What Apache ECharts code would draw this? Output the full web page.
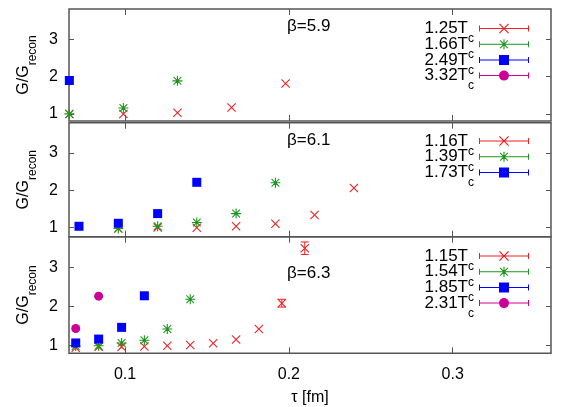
<!DOCTYPE html>
<html>
<head>
<meta charset="utf-8">
<script src="https://cdn.jsdelivr.net/npm/echarts@6/dist/echarts.min.js"></script>
<style>
  html, body { margin: 0; padding: 0; background: #fff; }
  #chart { width: 581px; height: 407px; }
</style>
</head>
<body>
<div id="chart"></div>
<script>
// beta = 5.9
var tau59 = [0.066, 0.099, 0.132, 0.165, 0.198];
var r125 = [1.0, 1.0, 1.03, 1.17, 1.815];
var g166 = [1.0, 1.16, 1.885];
var b249 = [1.895];
var m332 = [];
// beta = 6.1
var tau61 = [0.0719, 0.0959, 0.1199, 0.1438, 0.1678, 0.1918, 0.2157, 0.2397];
var r116 = [null, 0.97, 1.0, 0.99, 1.03, 1.1, 1.33, 2.06];
var g139 = [null, 0.97, 1.03, 1.13, 1.37, 2.2];
var b173 = [1.03, 1.11, 1.37, 2.21];
// beta = 6.3
var tau63 = [0.0699, 0.0839, 0.0979, 0.1118, 0.1258, 0.1398, 0.1538, 0.1678, 0.1817, 0.1957, 0.2097];
var r115 = [0.95, 0.97, 0.97, 0.98, 1.0, 1.02, 1.06, 1.16, 1.43, 2.09, 3.5];
var r115err = [0, 0, 0, 0, 0, 0, 0, 0, 0, 0.1, 0.16];
var g154 = [0.99, 1.0, 1.07, 1.14, 1.43, 2.19];
var b185 = [1.07, 1.17, 1.47, 2.28];
var m231 = [1.44, 2.27];

var xTicks = [0.1, 0.2, 0.3];
var yTicks = [1, 2, 3];
var betaLabels = ['β=5.9', 'β=6.1', 'β=6.3'];

var RED = '#ee2222', GREEN = '#1d961d', BLUE = '#0000ff', MAG = '#cc0099';
var FONT = 'Liberation Sans, Arial, sans-serif';
var AXC = '#555';

function pts(tau, ys) {
  var out = [];
  ys.forEach(function (y, i) { if (y != null) out.push([tau[i], y]); });
  return out;
}

// marker outlines
function poly(p) {
  return 'M' + p.map(function (q) { return q[0].toFixed(2) + ',' + q[1].toFixed(2); }).join(' L') + ' Z';
}
function crossP(cx, cy, h, w) {
  return poly([[cx-h,cy-h+w],[cx-h+w,cy-h],[cx,cy-w],[cx+h-w,cy-h],[cx+h,cy-h+w],[cx+w,cy],
               [cx+h,cy+h-w],[cx+h-w,cy+h],[cx,cy+w],[cx-h+w,cy+h],[cx-h,cy+h-w],[cx-w,cy]]);
}
function plusP(cx, cy, h, t) {
  return poly([[cx-t,cy-h],[cx+t,cy-h],[cx+t,cy-t],[cx+h,cy-t],[cx+h,cy+t],[cx+t,cy+t],
               [cx+t,cy+h],[cx-t,cy+h],[cx-t,cy+t],[cx-h,cy+t],[cx-h,cy-t],[cx-t,cy-t]]);
}
function squareP(cx, cy, h) { return poly([[cx-h,cy-h],[cx+h,cy-h],[cx+h,cy+h],[cx-h,cy+h]]); }
function circleP(cx, cy, h) {
  return 'M' + (cx-h) + ',' + cy + ' A' + h + ',' + h + ' 0 1,1 ' + (cx+h) + ',' + cy +
         ' A' + h + ',' + h + ' 0 1,1 ' + (cx-h) + ',' + cy + ' Z';
}
var shapes = {
  cross: function (cx, cy, h) { return crossP(cx, cy, h, 0.85); },
  star: function (cx, cy, h) { return plusP(cx, cy, h, 0.55) + ' ' + crossP(cx, cy, h * 0.85, 0.75); },
  square: function (cx, cy, h) { return squareP(cx, cy, h); },
  circle: function (cx, cy, h) { return circleP(cx, cy, h); }
};
var barLine = poly([[1,4.5],[49,4.5],[49,5.5],[1,5.5]]) + ' ' +
              poly([[0,2],[1,2],[1,8],[0,8]]) + ' ' + poly([[49,2],[50,2],[50,8],[49,8]]);
function symbolOf(k) { return 'path://' + shapes[k](5, 5, 5); }
function iconOf(k) { return 'path://' + barLine + ' ' + shapes[k](25, 5, 5); }

var panels = [
  { items: [['1.25', r125, tau59, 'cross', RED], ['1.66', g166, tau59, 'star', GREEN],
            ['2.49', b249, tau59, 'square', BLUE], ['3.32', m332, tau59, 'circle', MAG]],
    yMin: 0.81, yMax: 3.81, grid: { top: 9, height: 112 }, legendTop: 12 },
  { items: [['1.16', r116, tau61, 'cross', RED], ['1.39', g139, tau61, 'star', GREEN],
            ['1.73', b173, tau61, 'square', BLUE]],
    yMin: 0.75, yMax: 3.81, grid: { top: 122.7, height: 114 }, legendTop: 124.5 },
  { items: [['1.15', r115, tau63, 'cross', RED], ['1.54', g154, tau63, 'star', GREEN],
            ['1.85', b185, tau63, 'square', BLUE], ['2.31', m231, tau63, 'circle', MAG]],
    yMin: 0.805, yMax: 3.795, grid: { top: 236.7, height: 116.6 }, legendTop: 239.5 }
];

var xMin = 0.0658, xMax = 0.36;
var grids = [], xAxes = [], yAxes = [], series = [], legends = [], graphics = [];
var tickStyle = { color: AXC, width: 1 };
var labelStyle = { fontFamily: FONT, fontSize: 16, color: '#000' };

panels.forEach(function (p, i) {
  grids.push({ left: 69, right: 30, top: p.grid.top, height: p.grid.height,
               show: true, borderColor: AXC, borderWidth: 1.5, backgroundColor: 'transparent' });
  ['bottom', 'top'].forEach(function (pos) {
    var showLab = (pos === 'bottom' && i === 2);
    xAxes.push({
      gridIndex: i, type: 'value', position: pos, min: xMin, max: xMax,
      axisLine: { show: false }, splitLine: { show: false },
      axisTick: { inside: true, length: 6, customValues: xTicks, lineStyle: tickStyle },
      axisLabel: Object.assign({ show: showLab, customValues: xTicks, margin: 13,
                                 formatter: function (v) { return String(v); } }, labelStyle),
      name: showLab ? 'τ [fm]' : '', nameLocation: 'middle', nameGap: 36,
      nameTextStyle: labelStyle
    });
  });
  ['left', 'right'].forEach(function (pos) {
    var showLab = pos === 'left';
    yAxes.push({
      gridIndex: i, type: 'value', position: pos, min: p.yMin, max: p.yMax,
      axisLine: { show: false }, splitLine: { show: false },
      axisTick: { inside: true, length: 5, customValues: yTicks, lineStyle: tickStyle },
      axisLabel: Object.assign({ show: showLab, customValues: yTicks, margin: 11 }, labelStyle),
      name: showLab ? '{a|G/G}{s|recon}' : '', nameLocation: 'middle', nameRotate: 90, nameGap: 36,
      nameTextStyle: { rich: {
        a: { fontFamily: FONT, fontSize: 16, lineHeight: 16, color: '#000', verticalAlign: 'middle' },
        s: { fontFamily: FONT, fontSize: 12, lineHeight: 12, color: '#000', padding: [18, 0, 0, 0], verticalAlign: 'middle' }
      } }
    });
  });
  var legendData = [];
  p.items.forEach(function (it) {
    series.push({
      name: it[0], type: 'scatter', xAxisIndex: 2 * i, yAxisIndex: 2 * i,
      data: pts(it[2], it[1]), symbol: symbolOf(it[3]),
      symbolSize: it[3] === 'star' ? 10 : 9, clip: false,
      itemStyle: { color: it[4], opacity: 1 }
    });
    legendData.push({ name: it[0], icon: iconOf(it[3]) });
  });
  legends.push({
    data: legendData, orient: 'vertical', right: 52, top: p.legendTop, padding: 0,
    itemWidth: 50, itemHeight: 10, itemGap: -17.3, align: 'right', selectedMode: false,
    formatter: function (n) { return '{a|' + n + 'T}{s|c}'; },
    textStyle: { padding: [0, 0, 0, 0], rich: {
      a: { fontFamily: FONT, fontSize: 17, lineHeight: 17, color: '#000', verticalAlign: 'middle' },
      s: { fontFamily: FONT, fontSize: 12, lineHeight: 12, color: '#000', padding: [21, 0, 0, 0], verticalAlign: 'middle' }
    } }
  });
});

// error bars for the 1.15Tc series
var errData = [];
r115.forEach(function (y, i) {
  if (r115err[i] > 0) errData.push([tau63[i], y - r115err[i], y + r115err[i]]);
});
series.push({
  type: 'custom', xAxisIndex: 4, yAxisIndex: 4, data: errData, clip: false, z: 1,
  renderItem: function (params, api) {
    var hi = api.coord([api.value(0), api.value(2)]);
    var lo = api.coord([api.value(0), api.value(1)]);
    var st = { stroke: RED, lineWidth: 1 };
    return { type: 'group', children: [
      { type: 'line', shape: { x1: hi[0], y1: hi[1], x2: lo[0], y2: lo[1] }, style: st },
      { type: 'line', shape: { x1: hi[0] - 4, y1: hi[1], x2: hi[0] + 4, y2: hi[1] }, style: st },
      { type: 'line', shape: { x1: lo[0] - 4, y1: lo[1], x2: lo[0] + 4, y2: lo[1] }, style: st }
    ] };
  }
});

var betaY = [27, 141.5, 274];
betaLabels.forEach(function (t, i) {
  graphics.push({ type: 'text', left: 287, top: betaY[i] - 9.5,
                  style: { text: t, font: '17px ' + FONT, fill: '#000' } });
});

var chart = echarts.init(document.getElementById('chart'), null, { renderer: 'canvas' });
chart.setOption({
  animation: false,
  backgroundColor: '#fff',
  grid: grids, xAxis: xAxes, yAxis: yAxes,
  legend: legends, series: series, graphic: graphics
});
</script>
</body>
</html>
